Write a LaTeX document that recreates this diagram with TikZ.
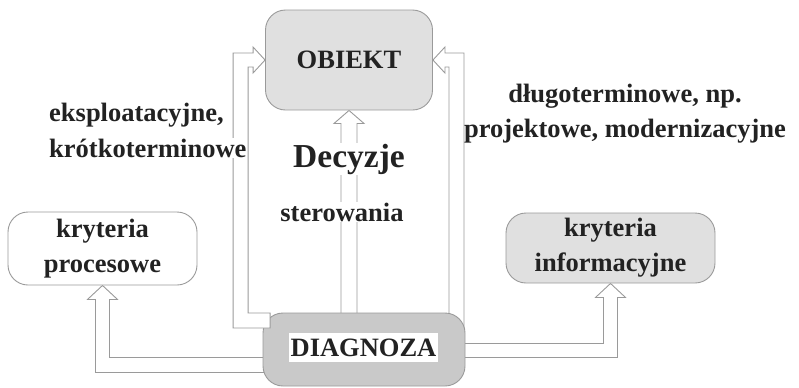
\documentclass[tikz,border=0pt]{standalone}
\usepackage{fontspec}
\setmainfont{Liberation Serif}
\usetikzlibrary{backgrounds}
\definecolor{ink}{HTML}{222222}
\definecolor{edge}{HTML}{9A9A9A}
\definecolor{boxfill}{HTML}{E0E0E0}
\definecolor{diagfill}{HTML}{C9C9C9}

\begin{document}
\begin{tikzpicture}[x=1bp,y=-1bp,
  box/.style={draw=edge, line width=0.9bp, rounded corners=20bp, inner sep=0pt, text=ink},
  hollow/.style={draw=edge, fill=white, line width=0.9bp, line join=miter},
  txt/.style={text=ink, font=\bfseries\fontsize{26.5bp}{35bp}\selectfont, inner sep=1bp},
]
\useasboundingbox (0,0) rectangle (799,387);

% main blocks
\node[box, fill=boxfill, minimum width=167bp, minimum height=100bp, txt, inner sep=0pt] (obj) at (349,60) {OBIEKT};
\node[box, fill=diagfill, minimum width=202bp, minimum height=73bp] (diag) at (364,349.5) {};
\node[txt, fill=white, minimum width=149bp, minimum height=29bp, inner sep=0pt] (diagtxt) at (363.5,347.5) {DIAGNOZA};

% criteria blocks
\node[box, fill=white, minimum width=189bp, minimum height=73bp, align=center, txt, inner sep=0pt] (kp) at (102.5,248.5) {kryteria\\procesowe};
\node[box, fill=boxfill, minimum width=209bp, minimum height=70bp, align=center, txt, inner sep=0pt] (ki) at (610.5,248) {kryteria\\informacyjne};

% hollow arrows lying under the blocks
\begin{pgfonlayer}{background}
  % control decisions: DIAGNOZA -> OBIEKT
  \draw[hollow] (obj.south) -- ++(15,13) -- ++(-7,0) -- ++(0,200) -- ++(-16,0)
     -- ++(0,-200) -- ++(-7,0) -- cycle;
  % long-term decisions: DIAGNOZA -> OBIEKT (right side)
  \draw[hollow] (obj.east) -- ++(12,-13) -- ++(0,6) -- ++(19,0) -- ++(0,280)
     -- ++(-15,0) -- ++(0,-266) -- ++(-4,0) -- ++(0,6) -- cycle;
  % DIAGNOZA -> process criteria
  \draw[hollow] (kp.south) -- ++(15,14) -- ++(-8,0) -- ++(0,58) -- ++(170,0)
     -- ++(0,15) -- ++(-184,0) -- ++(0,-73) -- ++(-8,0) -- cycle;
  % DIAGNOZA -> information criteria
  \draw[hollow] (ki.south) -- ++(15,14) -- ++(-8,0) -- ++(0,60) -- ++(-170,0)
     -- ++(0,-14) -- ++(156,0) -- ++(0,-46) -- ++(-8,0) -- cycle;
\end{pgfonlayer}

% short-term decisions: DIAGNOZA -> OBIEKT (left side), its tail over the block corner
\draw[hollow] (obj.west) -- ++(-12,-13) -- ++(0,6) -- ++(-20,0) -- ++(0,275)
   -- ++(37,0) -- ++(0,-15) -- ++(-22,0) -- ++(0,-246) -- ++(5,0) -- ++(0,6) -- cycle;

% labels
\node[txt, anchor=west] (l1) at (48,115) {eksploatacyjne,};
\node[txt, anchor=west, fill=white] (l2) at (48,148) {krótkoterminowe};
\node[txt, align=center] (l3) at (625,114) {długoterminowe, np.\\projektowe, modernizacyjne};
\node[txt, fill=white, font=\bfseries\fontsize{33.5bp}{36bp}\selectfont] (dec) at (349,159) {Decyzje};
\node[txt, fill=white] (ster) at (342,212) {sterowania};
\end{tikzpicture}
\end{document}
